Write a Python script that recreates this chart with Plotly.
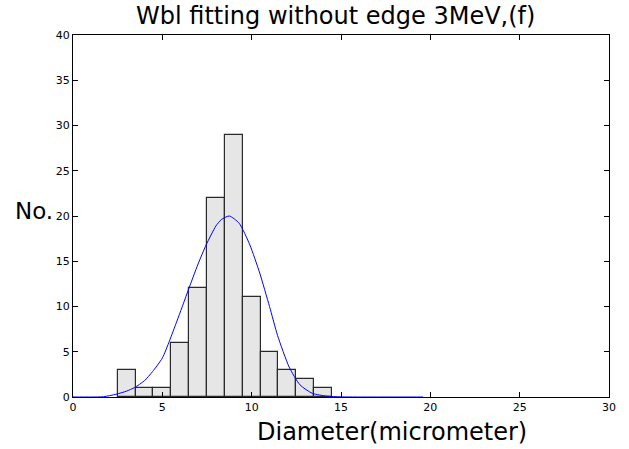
import plotly.graph_objects as go

# Histogram data (bin centers, counts)
bin_centers = [3, 4, 5, 6, 7, 8, 9, 10, 11, 12, 13, 14]
counts = [3, 1, 1, 6, 12, 22, 29, 11, 5, 3, 2, 1]

# Weibull fit curve
fit_x = [0, 1.0, 1.7, 2.4, 3.0, 3.45, 4.0, 4.45, 5.0, 5.4, 5.8, 6.1, 6.45, 7.0, 7.45,
         8.0, 8.3, 8.75, 9.3, 9.9, 10.45, 11.0, 11.45, 12.1, 12.7, 13.4, 14.2,
         15.0, 16.0, 17.0, 18.0, 19.0, 19.6]
fit_y = [0, 0, 0.03, 0.3, 0.65, 1.05, 1.8, 2.8, 4.3, 6.2, 8.3, 9.9, 11.8, 14.7, 16.8,
         18.9, 19.6, 20.0, 19.2, 16.8, 13.7, 10.0, 6.8, 3.3, 1.35, 0.4, 0.1,
         0.02, 0, 0, 0, 0, 0]

x_ticks = [0, 5, 10, 15, 20, 25, 30]
y_ticks = [0, 5, 10, 15, 20, 25, 30, 35, 40]

title_text = "Wbl fitting without edge 3MeV,(f)"
xlabel_text = "Diameter(micrometer)"
ylabel_text = "No."

fig = go.Figure()
fig.add_trace(go.Bar(
    x=bin_centers, y=counts, width=1.0,
    marker=dict(color="#e6e6e6", line=dict(color="#2a2a2a", width=1.2)),
    showlegend=False,
))
fig.add_trace(go.Scatter(
    x=fit_x, y=fit_y, mode="lines",
    line=dict(color="#0000ff", width=1, shape="spline", smoothing=0.6),
    showlegend=False,
))

axis_common = dict(
    showline=True, linecolor="black", linewidth=1, mirror="ticks",
    ticks="inside", ticklen=5, tickcolor="black", tickwidth=1,
    showgrid=False, zeroline=False,
    tickfont=dict(family="DejaVu Sans", size=11, color="black"),
)

fig.update_layout(
    width=629, height=449,
    margin=dict(l=73, r=20, t=35, b=52),
    paper_bgcolor="white", plot_bgcolor="white",
    bargap=0,
    xaxis=dict(range=[0, 30], tickvals=x_ticks, **axis_common),
    yaxis=dict(range=[0, 40], tickvals=y_ticks, **axis_common),
    annotations=[
        dict(text=title_text, xref="paper", yref="paper", x=0.489, y=1.0525,
             xanchor="center", yanchor="middle", showarrow=False,
             font=dict(family="DejaVu Sans", size=24, color="black")),
        dict(text=xlabel_text, xref="paper", yref="paper", x=0.595, y=-0.0967,
             xanchor="center", yanchor="middle", showarrow=False,
             font=dict(family="DejaVu Sans", size=24, color="black")),
        dict(text=ylabel_text, xref="paper", yref="paper", x=-0.112, y=0.515,
             xanchor="left", yanchor="middle", showarrow=False,
             font=dict(family="DejaVu Sans", size=23, color="black")),
    ],
)

fig.write_html(
    "out.html",
    config={"displayModeBar": False},
    post_script="document.body.style.margin='0';document.body.style.overflow='hidden';",
)
